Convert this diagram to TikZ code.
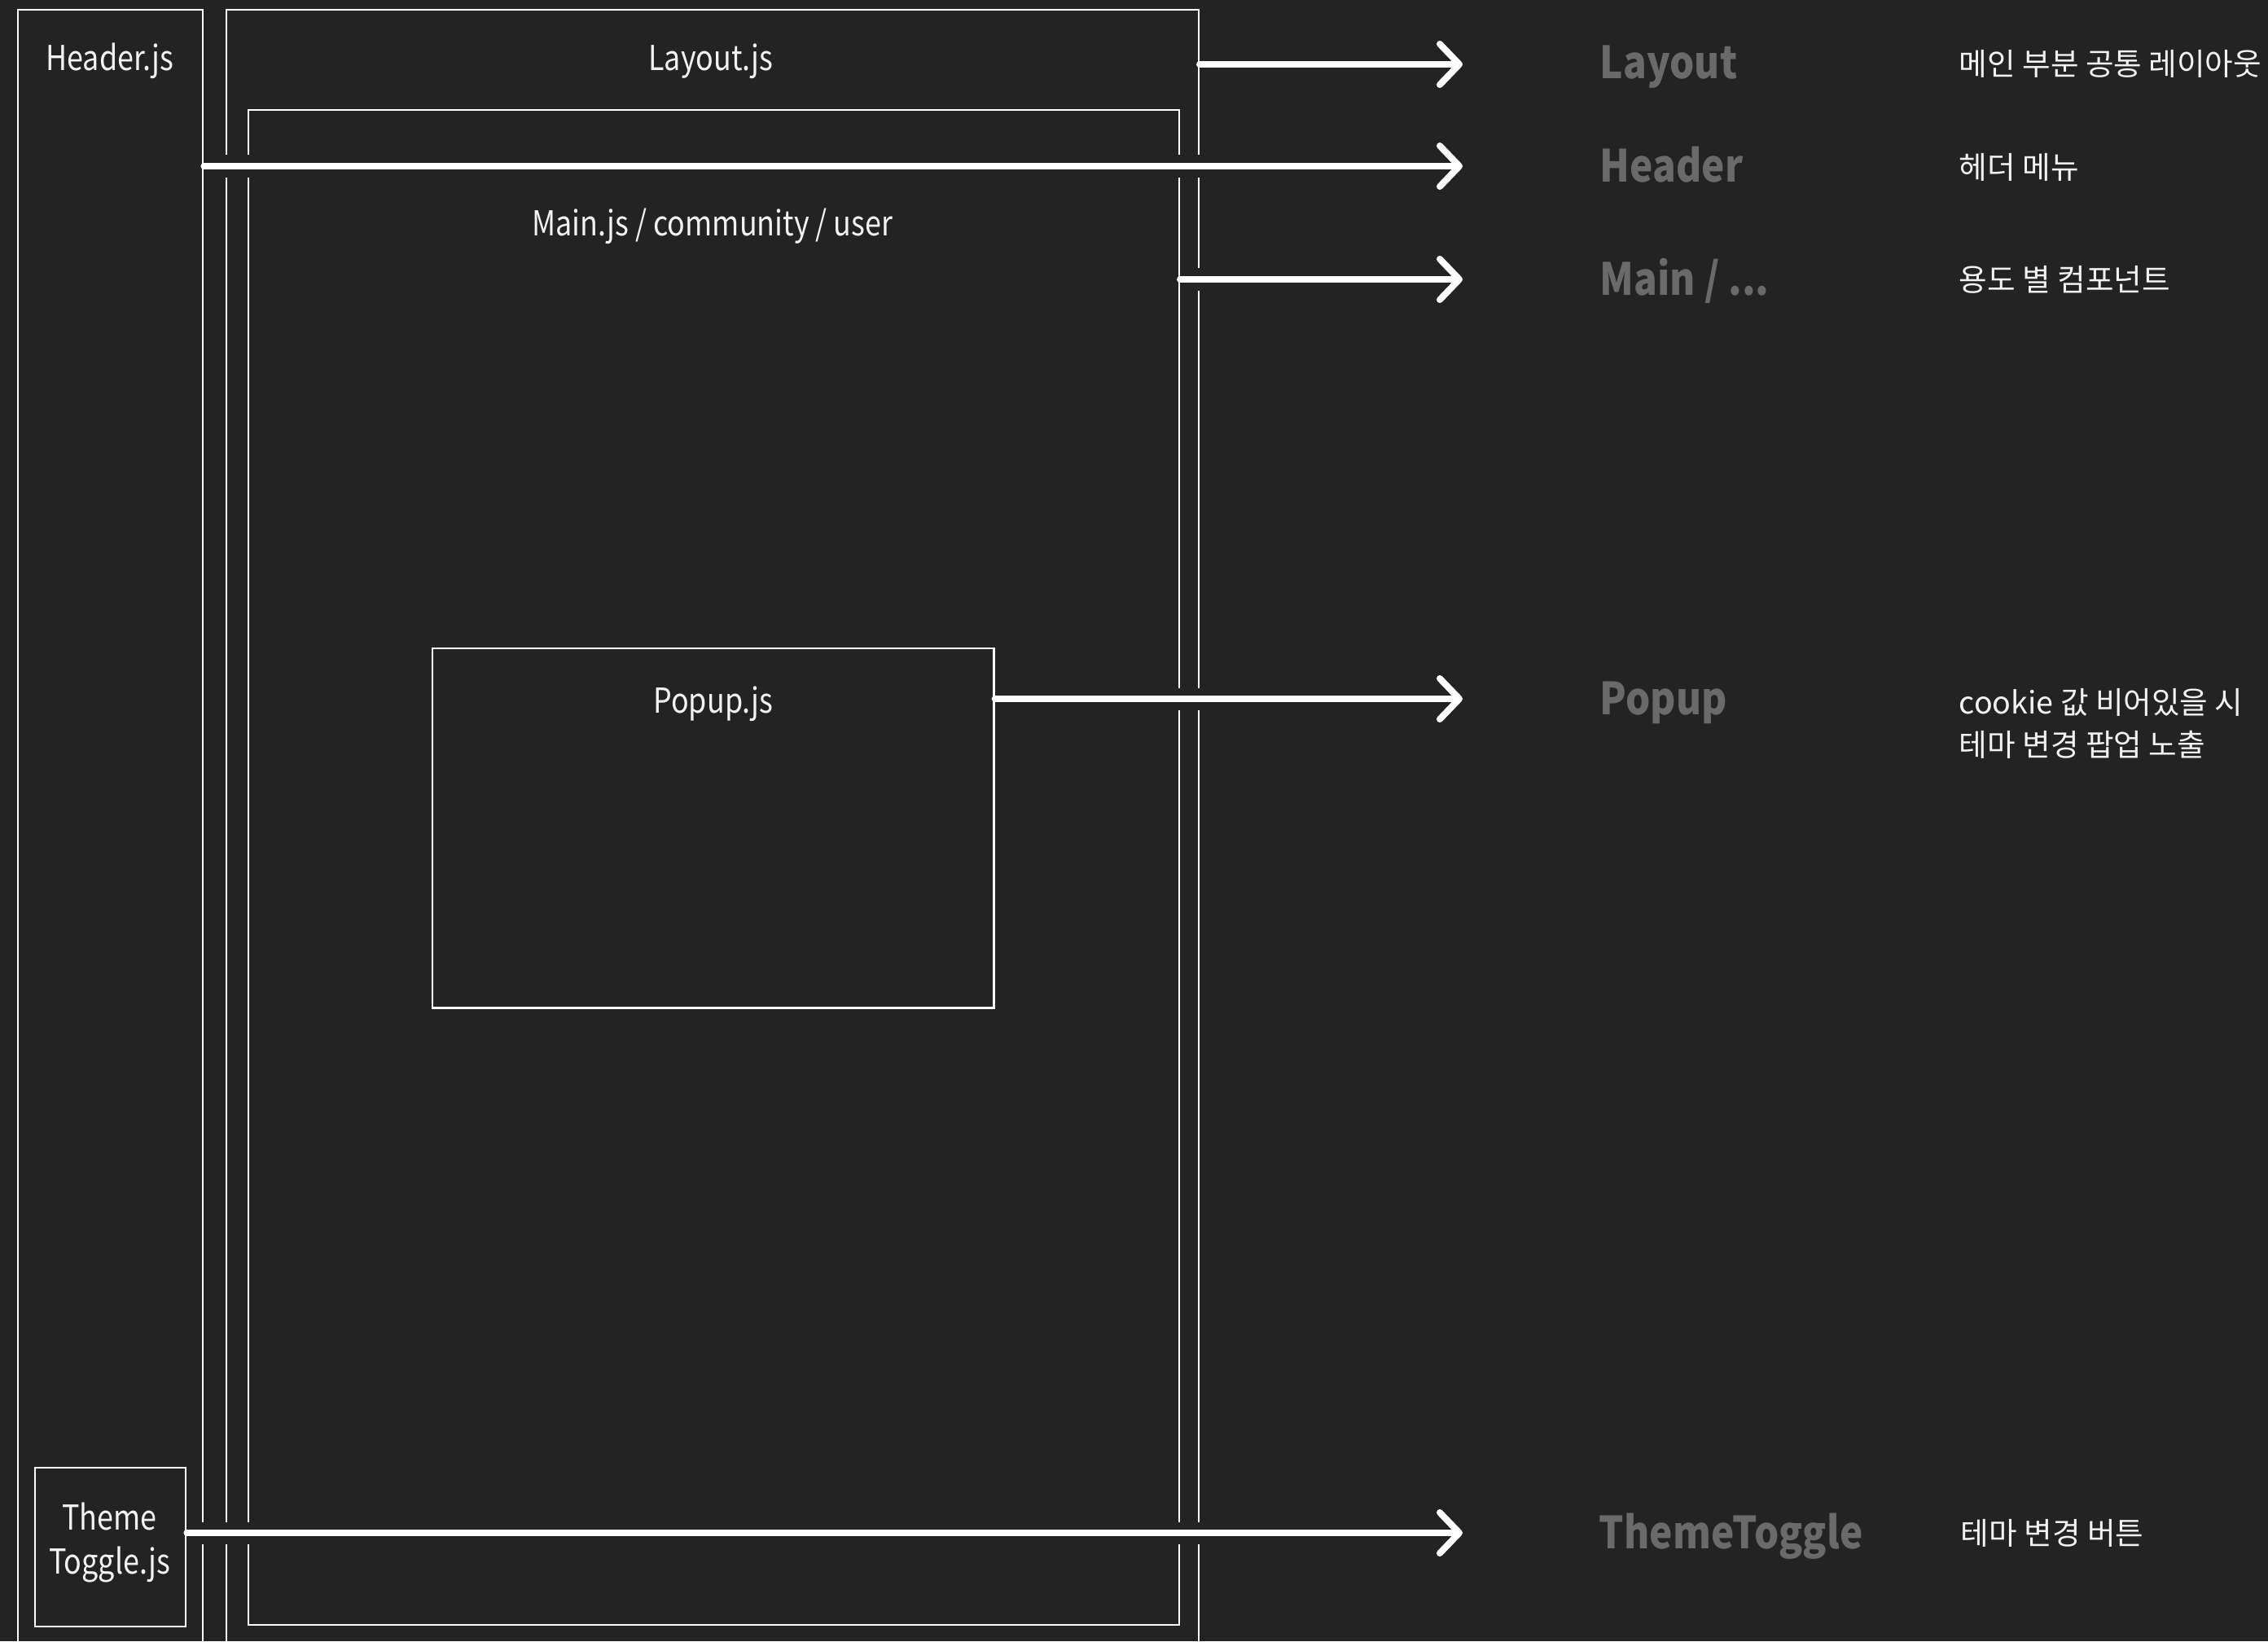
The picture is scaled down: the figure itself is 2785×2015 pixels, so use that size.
\documentclass[tikz,border=0pt]{standalone}
\usepackage{fontspec}
\setmainfont{Noto Sans CJK KR}
\newfontfamily\boxfont{Noto Sans CJK KR}[FakeStretch=0.85]
\newfontfamily\labelfont{Noto Sans CJK KR}[FakeStretch=0.875]
\usetikzlibrary{arrows.meta}
\definecolor{bgc}{HTML}{232323}
\definecolor{lblgrey}{HTML}{6A6A6A}
\definecolor{fgc}{HTML}{F2F2F2}
\begin{document}
\begin{tikzpicture}[x=0.01cm,y=-0.01cm,
  frame/.style={draw=white, line width=0.023cm, inner sep=0pt, anchor=north west},
  boxtext/.style={text=fgc, inner sep=0pt, font=\boxfont\fontsize{12}{15.1}\selectfont},
  biglabel/.style={text=lblgrey, inner sep=0pt, anchor=base west, font=\labelfont\fontsize{15.5}{18}\selectfont\bfseries},
  desc/.style={text=fgc, inner sep=0pt, anchor=west, align=left, font=\fontsize{10.7}{14.8}\selectfont},
  gapline/.style={draw=bgc, line width=0.27cm, shorten <=0.03cm, shorten >=0.3cm},
  conn/.style={draw=white, line width=0.08cm, line cap=round,
    -{Straight Barb[length=0.24cm, width=0.5cm, round]}}]
\useasboundingbox (0,0) rectangle (2785,2015);
\fill[bgc] (0,0) rectangle (2785,2015);
\clip (0,0) rectangle (2785,2015);

% boxes
\node[frame, minimum width=2.27cm, minimum height=20.4cm] (hdr) at (21,11) {};
\node[frame, minimum width=11.93cm, minimum height=20.4cm] (lay) at (277,11) {};
\node[frame, minimum width=11.42cm, minimum height=18.59cm] (main) at (304,134) {};
\node[frame, minimum width=6.89cm, minimum height=4.41cm] (pop) at (530,795) {};
\node[frame, minimum width=1.85cm, minimum height=1.95cm] (tt) at (42,1801) {};

% box texts
\node[boxtext, anchor=base] (hdrT) at (135,87) {Header.js};
\node[boxtext, anchor=base] (layT) at (873,87) {Layout.js};
\node[boxtext, anchor=base] (mainT) at (875,289) {Main.js / community / user};
\node[boxtext, anchor=base] (popT) at (876,875) {Popup.js};
\node[boxtext, anchor=center, align=center] (ttT) at (134.5,1894) {Theme\\Toggle.js};

% arrow tips
\coordinate (tLayout) at (1796,79);
\coordinate (tHeader) at (1796,204);
\coordinate (tMain) at (1796,343);
\coordinate (tPopup) at (1796,858);
\coordinate (tTheme) at (1796,1882);

% gaps where the arrows cross the frames
\draw[gapline] (hdr.east |- tHeader) -- (tHeader);
\draw[gapline] (main.east |- tMain) -- (tMain);
\draw[gapline] (pop.east |- tPopup) -- (tPopup);
\draw[gapline] (tt.east |- tTheme) -- (tTheme);

% arrows
\draw[conn] (lay.east |- tLayout) -- (tLayout);
\draw[conn] (hdr.east |- tHeader) -- (tHeader);
\draw[conn] (main.east |- tMain) -- (tMain);
\draw[conn] (pop.east |- tPopup) -- (tPopup);
\draw[conn] (tt.east |- tTheme) -- (tTheme);

% right-hand labels
\node[biglabel] (lLayout) at (1964,96) {Layout};
\node[biglabel] (lHeader) at (1964,223) {Header};
\node[biglabel] (lMain) at (1964,362) {Main / ...};
\node[biglabel] (lPopup) at (1964,877) {Popup};
\node[biglabel] (lTheme) at (1963,1901) {ThemeToggle};

\node[desc] (dLayout) at (2405,78) {메인 부분 공통 레이아웃};
\node[desc] (dHeader) at (2405,205) {헤더 메뉴};
\node[desc] (dMain) at (2405,343) {용도 별 컴포넌트};
\node[desc] (dPopup) at (2405,888) {cookie 값 비어있을 시\\테마 변경 팝업 노출};
\node[desc] (dTheme) at (2407,1882) {테마 변경 버튼};
\end{tikzpicture}
\end{document}
